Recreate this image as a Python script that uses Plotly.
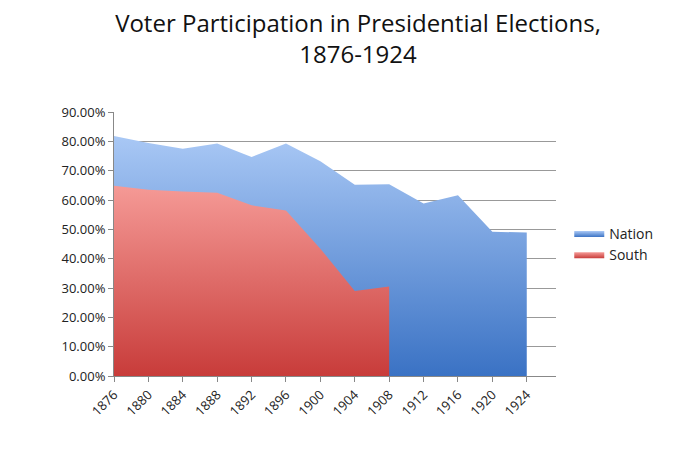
import plotly.graph_objects as go

years = [1876, 1880, 1884, 1888, 1892, 1896, 1900, 1904, 1908, 1912, 1916, 1920, 1924]
nation = [81.8, 79.4, 77.5, 79.3, 74.7, 79.3, 73.2, 65.2, 65.4, 58.8, 61.6, 49.2, 48.9]
south_years = [1876, 1880, 1884, 1888, 1892, 1896, 1900, 1904, 1908]
south = [64.9, 63.5, 62.9, 62.5, 58.2, 56.4, 43.4, 29.0, 30.5]

fig = go.Figure()
fig.add_trace(go.Scatter(x=years, y=[v/100 for v in nation], name="Nation", mode="lines",
    line=dict(width=0, color="#5b8fd6"), fill="tozeroy",
    fillgradient=dict(type="vertical", colorscale=[[0, "#3a72c4"], [1, "#a9c8f5"]])))
fig.add_trace(go.Scatter(x=south_years, y=[v/100 for v in south], name="South", mode="lines",
    line=dict(width=0, color="#e05a5a"), fill="tozeroy",
    fillgradient=dict(type="vertical", colorscale=[[0, "#c83c3a"], [1, "#f59a96"]])))

fig.update_layout(
    width=700, height=470, margin=dict(l=106, r=152, t=104, b=102),
    paper_bgcolor="white", plot_bgcolor="white",
    font=dict(family="Open Sans, DejaVu Sans, sans-serif", color="#222"),
    title=dict(text="Voter Participation in Presidential Elections,<br>1876-1924",
               x=0.5, xanchor="center", y=0.95, yanchor="top", font=dict(size=24, color="#111")),
    legend=dict(x=1.03, y=0.5, yanchor="middle", traceorder="normal", font=dict(size=14),
                tracegroupgap=8),
    xaxis=dict(range=[1876, 1927.4], tickvals=years, ticktext=[str(y) for y in years],
               tickangle=-45, showgrid=False, showline=True, linecolor="#888",
               ticks="outside", tickcolor="#888", ticklen=5, tickfont=dict(size=13)),
    yaxis=dict(range=[0, 0.9], dtick=0.1, tickformat=".2%", showgrid=True, gridcolor="#999",
               showline=True, linecolor="#888", ticks="outside", tickcolor="#888", ticklen=5,
               tickfont=dict(size=13), zeroline=False),
)
fig.write_html("out.html")
